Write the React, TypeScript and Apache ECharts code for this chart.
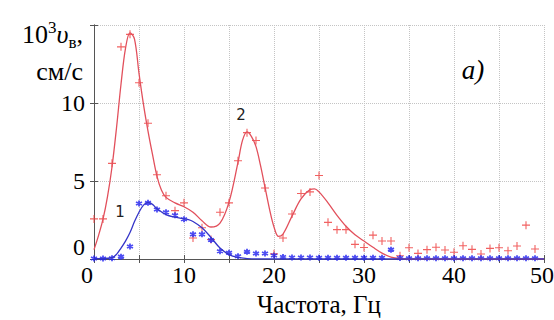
import React, { useEffect, useRef } from 'react';
import * as echarts from 'echarts';

// Measured points (frequency, Hz)
const pointFreq = [0, 1, 2, 3, 4, 5, 6, 7, 8, 9, 10, 11, 12, 13, 14, 15, 16, 17, 18, 19, 20, 21, 22, 23, 24,
  25, 26, 27, 28, 29, 30, 31, 32, 33, 34, 35, 36, 37, 38, 39, 40, 41, 42, 43, 44, 45, 46, 47, 48, 49];
// Series 2 (red crosses)
const redPoints = [2.57, 2.57, 6.13, 13.6, 14.4, 11.3, 8.7, 5.4, 4.05, 3.1, 3.6, 1.35, 2.0, 1.25, 3.0, 3.6,
  6.3, 8.1, 7.6, 4.55, 0.33, 1.35, 2.88, 4.2, 4.3, 5.35, 2.35, 1.88, 1.88, 0.94, 0.74, 1.53, 1.15, 1.15, 0.21,
  0.72, 0.36, 0.6, 0.75, 0.58, 0.43, 0.85, 0.62, 0.32, 0.68, 0.72, 0.53, 0.83, 2.17, 0.64];
// Series 1 (blue asterisks)
const bluePoints = [0.03, 0.03, 0.05, 0.15, 0.8, 3.56, 3.6, 3.17, 3.0, 2.8, 2.55, 1.58, 1.58, 1.22, 0.5, 0.4,
  0.18, 0.46, 0.35, 0.35, 0.22, 0.13, 0.1, 0.1, 0.1, 0.08, 0.08, 0.08, 0.08, 0.08, 0.08, 0.08, 0.08, 0.6, 0.06,
  0.05, 0.05, 0.05, 0.05, 0.05, 0.05, 0.05, 0.05, 0.05, 0.05, 0.05, 0.05, 0.05, 0.05, 0.05];

// Fitted curve 2 (red)
const redCurveX = [0, 0.5, 1, 1.5, 2, 2.5, 3, 3.5, 4, 4.5, 5, 5.5, 6, 6.5, 7, 7.5, 8, 9, 10, 11, 12, 13,
  14, 15, 16, 16.5, 17, 17.5, 18, 18.5, 19, 19.5, 20, 20.5, 21, 22, 23, 24, 24.5, 25, 26, 27, 28, 29, 30, 31, 32,
  33, 34, 35, 40, 45, 50];
const redCurveY = [0.6, 1.5, 2.55, 4.0, 5.9, 8.4, 11.2, 13.5, 14.5, 14.1, 11.9, 9.9, 8.2, 6.7, 5.3, 4.4, 3.95,
  3.6, 3.35, 3.0, 2.45, 2.05, 2.3, 3.65, 6.2, 7.6, 8.15, 7.85, 7.2, 6.0, 4.6, 3.2, 2.05, 1.45, 1.6, 2.75,
  3.85, 4.45, 4.5, 4.3, 3.6, 2.8, 2.1, 1.55, 1.15, 0.75, 0.38, 0.12, 0.02, 0, 0, 0, 0];

// Fitted curve 1 (blue)
const blueCurveX = [0, 1, 2, 2.5, 3, 3.5, 4, 4.5, 5, 5.5, 6, 6.5, 7, 8, 9, 10, 10.5, 11, 12, 13, 14, 15, 16,
  17, 18, 25, 35, 50];
const blueCurveY = [0.03, 0.03, 0.08, 0.3, 0.7, 1.15, 1.7, 2.4, 3.0, 3.45, 3.63, 3.5, 3.22, 2.85, 2.68, 2.57,
  2.52, 2.4, 2.0, 1.38, 0.7, 0.28, 0.1, 0.03, 0, 0, 0, 0];

const xTickLabels = ['0', '10', '20', '30', '40', '50'];
const yTickLabels = ['0', '5', '10'];

const SERIF = "'Liberation Serif', 'DejaVu Serif', 'Times New Roman', Times, serif";
const RED_LINE = '#e2505c';
const RED_PT = '#ee3a3a';
const BLUE_LINE = '#3434c8';
const BLUE_PT = '#2020f0';

const pairs = (xs: number[], ys: number[]) => xs.map((x, i) => [x, ys[i]]);

export default function App() {
  const ref = useRef<HTMLDivElement>(null);
  useEffect(() => {
    if (!ref.current) return;
    const chart = echarts.init(ref.current, undefined, { renderer: 'svg' });
    const gridLine = { show: true, lineStyle: { color: '#c4c4c4', type: 'dotted' as const, width: 1 } };
    const axisLine = { show: true, lineStyle: { color: '#555', width: 1 } };
    const tick = { show: true, inside: true, length: 4, lineStyle: { color: '#555' } };
    chart.setOption({
      animation: false,
      textStyle: { fontFamily: SERIF },
      grid: { left: 94, top: 25, right: 10, bottom: 61, show: false, containLabel: false, outerBoundsMode: 'none' },
      xAxis: [
        {
          type: 'value', min: 0, max: 50, interval: 5, position: 'bottom',
          axisLine, axisTick: tick, splitLine: gridLine,
          axisLabel: {
            margin: 4, fontSize: 24, fontFamily: SERIF, color: '#000',
            formatter: (v: number) => {
              const s = String(v);
              if (!xTickLabels.includes(s)) return '';
              if (v === 0) return '{l|0}';
              if (v === 50) return '{r|50}';
              return s;
            },
            rich: {
              l: { fontSize: 24, fontFamily: SERIF, color: '#000', padding: [0, 14, 0, 0] },
              r: { fontSize: 24, fontFamily: SERIF, color: '#000', padding: [0, 4, 0, 0] },
            },
          },
          name: 'Частота, Гц', nameLocation: 'middle', nameGap: 30,
          nameTextStyle: { fontSize: 25, fontFamily: SERIF, color: '#000' },
        },
        {
          type: 'value', min: 0, max: 50, interval: 5, position: 'top',
          axisLine, axisTick: tick, splitLine: { show: false }, axisLabel: { show: false },
        },
      ],
      yAxis: [
        {
          type: 'value', min: 0, max: 15, interval: 5, position: 'left',
          axisLine, axisTick: tick, splitLine: gridLine,
          axisLabel: {
            margin: 9, fontSize: 24, fontFamily: SERIF, color: '#000',
            formatter: (v: number) => {
              const s = String(v);
              if (!yTickLabels.includes(s)) return '';
              return v === 0 ? '{z|0}' : s;
            },
            rich: { z: { fontSize: 24, fontFamily: SERIF, color: '#000', padding: [0, 0, 24, 0] } },
          },
        },
        {
          type: 'value', min: 0, max: 15, interval: 5, position: 'right',
          axisLine, axisTick: tick, splitLine: { show: false }, axisLabel: { show: false },
        },
      ],
      series: [
        {
          type: 'line', name: 'curve2', data: pairs(redCurveX, redCurveY), smooth: 0.35,
          showSymbol: false, symbol: 'none', lineStyle: { color: RED_LINE, width: 1.3 },
        },
        {
          type: 'line', name: 'curve1', data: pairs(blueCurveX, blueCurveY), smooth: 0.35,
          showSymbol: false, symbol: 'none', lineStyle: { color: BLUE_LINE, width: 1.3 },
        },
        {
          type: 'scatter', name: 'points2', data: pairs(pointFreq, redPoints),
          symbol: 'path://M4,0L4,8M0,4L8,4', symbolSize: 8,
          itemStyle: { color: 'transparent', borderColor: RED_PT, borderWidth: 1.1 },
        },
        {
          type: 'scatter', name: 'points1', data: pairs(pointFreq, bluePoints),
          symbol: 'path://M5,0L5,10M0.7,2.5L9.3,7.5M0.7,7.5L9.3,2.5', symbolSize: 6,
          itemStyle: { color: BLUE_PT, borderColor: BLUE_PT, borderWidth: 1.8 },
        },
      ],
      graphic: [
        {
          type: 'text', x: 83, y: 47,
          style: {
            text: '{n|10}{sup|3}{i|υ}{sub|в}{n|,}',
            align: 'right', verticalAlign: 'bottom',
            rich: {
              n: { fontSize: 26, fontFamily: SERIF, fill: '#000', lineHeight: 28, verticalAlign: 'bottom' },
              sup: { fontSize: 17, fontFamily: SERIF, fill: '#000', lineHeight: 28, verticalAlign: 'top' },
              i: { fontSize: 26, fontFamily: SERIF, fontStyle: 'italic', fill: '#000', lineHeight: 28, verticalAlign: 'bottom' },
              sub: { fontSize: 17, fontFamily: SERIF, fill: '#000', lineHeight: 22, verticalAlign: 'bottom', padding: [0, 0, -4, 0] },
            },
          },
        },
        {
          type: 'text', x: 83, y: 71,
          style: { text: 'см/с', fontSize: 26, fontFamily: SERIF, fill: '#000', align: 'right', verticalAlign: 'middle' },
        },
        {
          type: 'text', x: 473, y: 70,
          style: { text: 'a)', fontSize: 27, fontFamily: SERIF, fontStyle: 'italic', fill: '#000', align: 'center', verticalAlign: 'middle' },
        },
        {
          type: 'text', x: 120, y: 212,
          style: { text: '1', fontSize: 15, fontFamily: 'DejaVu Sans', fill: '#222', align: 'center', verticalAlign: 'middle' },
        },
        {
          type: 'text', x: 241, y: 115,
          style: { text: '2', fontSize: 15, fontFamily: 'DejaVu Sans', fill: '#222', align: 'center', verticalAlign: 'middle' },
        },
      ],
    });
    return () => chart.dispose();
  }, []);
  return <div ref={ref} style={{ width: 554, height: 320, position: 'absolute', left: 0, top: 0, background: '#fff' }} />;
}
